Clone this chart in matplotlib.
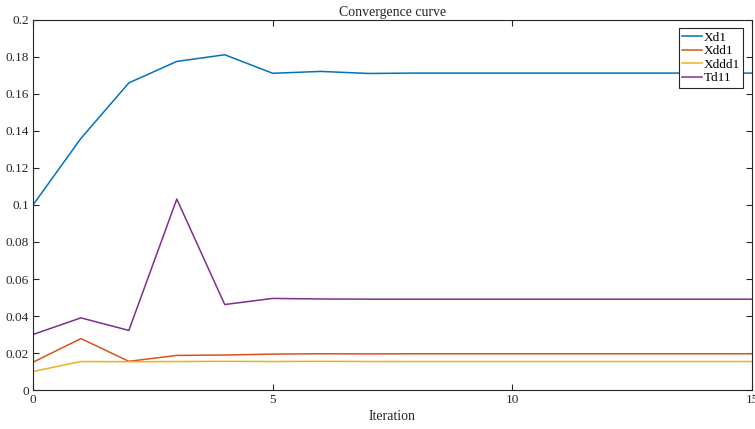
import matplotlib
matplotlib.use("Agg")
from matplotlib import pyplot as plt

iters = list(range(16))
xd1 = [0.1, 0.136, 0.166, 0.1776, 0.1812, 0.1712, 0.1722, 0.1711, 0.1713, 0.1713,
       0.1713, 0.1713, 0.1713, 0.1713, 0.1713, 0.1713]
xdd1 = [0.015, 0.0278, 0.0155, 0.0187, 0.0189, 0.0194, 0.0196, 0.0195, 0.0196, 0.0196,
        0.0196, 0.0196, 0.0196, 0.0196, 0.0196, 0.0196]
xddd1 = [0.010, 0.0154, 0.0153, 0.0154, 0.0155, 0.0154, 0.0155, 0.0154, 0.0154, 0.0154,
         0.0154, 0.0154, 0.0154, 0.0154, 0.0154, 0.0154]
td11 = [0.030, 0.039, 0.0322, 0.1032, 0.0462, 0.0495, 0.0492, 0.0491, 0.0491, 0.0491,
        0.0491, 0.0491, 0.0491, 0.0491, 0.0491, 0.0491]

names = ["Xd1", "Xdd1", "Xddd1", "Td11"]
colors = ["#0072BD", "#D95319", "#EDB120", "#7E2F8E"]

plt.rcParams['font.family'] = ['Liberation Serif', 'DejaVu Serif']
plt.rcParams['font.size'] = 9.5

fig = plt.figure(figsize=(7.55, 4.29), dpi=100)
ax = fig.add_axes([0.0437, 0.0909, 0.9523, 0.8625])

for ys, name, c in zip([xd1, xdd1, xddd1, td11], names, colors):
    ax.plot(iters, ys, color=c, lw=1.1, label=name)

ax.set_xlim(0, 15)
ax.set_ylim(0, 0.2)
ax.set_xticks([0, 5, 10, 15])
ax.set_yticks([i * 0.02 for i in range(11)])
ax.set_yticklabels(["0", "0.02", "0.04", "0.06", "0.08", "0.1", "0.12", "0.14",
                    "0.16", "0.18", "0.2"])
ax.tick_params(direction='in', top=True, right=True, length=4, width=0.8,
               colors='#262626', labelcolor='#262626', pad=3)
for s in ax.spines.values():
    s.set_color('#262626')
    s.set_linewidth(0.8)

ax.set_title("Convergence curve", fontsize=10, pad=3, color='#262626')
ax.set_xlabel("Iteration", fontsize=10, labelpad=3, color='#262626')

leg = ax.legend(loc='upper right', bbox_to_anchor=(0.988, 0.978), fontsize=9.5,
                fancybox=False, edgecolor='#262626', framealpha=1,
                handlelength=1.5, handletextpad=0.15, borderpad=0.25,
                labelspacing=0.1, borderaxespad=0)
leg.get_frame().set_linewidth(0.8)

plt.savefig("out.png", dpi=100)
